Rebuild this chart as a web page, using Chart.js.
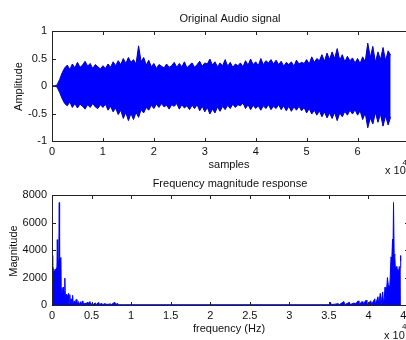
<!DOCTYPE html>
<html>
<head>
<meta charset="utf-8">
<script src="https://cdn.jsdelivr.net/npm/chart.js@4.4.1/dist/chart.umd.min.js"></script>
<style>
html, body { margin: 0; padding: 0; background: #fff; overflow: hidden; width: 406px; height: 340px; }
canvas { position: absolute; left: 0; top: 0; }
</style>
</head>
<body>
<canvas id="sig" width="420" height="340"></canvas>
<canvas id="fft" width="420" height="340"></canvas>
<script>
// envelope of the audio signal, one value every 500 samples
var SAMPLE_STEP = 500;
var sigUpper = [
    0, 0, 0.02, 0.12, 0.24, 0.33, 0.38, 0.3, 0.4, 0.33,
    0.43, 0.34, 0.38, 0.45, 0.36, 0.41, 0.32, 0.39, 0.35, 0.31,
    0.37, 0.32, 0.4, 0.34, 0.44, 0.37, 0.46, 0.39, 0.5, 0.41,
    0.52, 0.43, 0.48, 0.4, 0.73, 0.44, 0.52, 0.38, 0.47, 0.35,
    0.41, 0.32, 0.39, 0.36, 0.33, 0.4, 0.34, 0.37, 0.43, 0.34,
    0.41, 0.35, 0.44, 0.33, 0.38, 0.42, 0.34, 0.39, 0.45, 0.36,
    0.42, 0.4, 0.49, 0.38, 0.44, 0.35, 0.42, 0.37, 0.48, 0.36,
    0.43, 0.34, 0.4, 0.37, 0.42, 0.35, 0.46, 0.38, 0.49, 0.39,
    0.44, 0.37, 0.5, 0.39, 0.46, 0.42, 0.48, 0.4, 0.47, 0.39,
    0.45, 0.36, 0.43, 0.39, 0.44, 0.36, 0.47, 0.4, 0.43, 0.41,
    0.48, 0.4, 0.53, 0.43, 0.5, 0.46, 0.57, 0.45, 0.6, 0.48,
    0.62, 0.5, 0.68, 0.47, 0.57, 0.44, 0.54, 0.46, 0.51, 0.42,
    0.5, 0.41, 0.53, 0.44, 0.78, 0.52, 0.72, 0.43, 0.62, 0.48,
    0.7, 0.46, 0.64, 0.56
];
var sigLower = [
    0, 0, -0.02, -0.12, -0.23, -0.32, -0.36, -0.29, -0.39, -0.32,
    -0.4, -0.33, -0.37, -0.42, -0.34, -0.39, -0.32, -0.38, -0.41, -0.34,
    -0.39, -0.33, -0.44, -0.37, -0.47, -0.4, -0.52, -0.44, -0.59, -0.48,
    -0.63, -0.5, -0.61, -0.48, -0.57, -0.43, -0.49, -0.39, -0.44, -0.35,
    -0.41, -0.33, -0.39, -0.32, -0.38, -0.35, -0.42, -0.34, -0.37, -0.32,
    -0.42, -0.34, -0.4, -0.36, -0.43, -0.35, -0.41, -0.34, -0.45, -0.37,
    -0.47, -0.39, -0.51, -0.42, -0.49, -0.38, -0.46, -0.37, -0.43, -0.35,
    -0.41, -0.33, -0.39, -0.34, -0.36, -0.31, -0.41, -0.34, -0.43, -0.35,
    -0.41, -0.36, -0.44, -0.36, -0.41, -0.34, -0.43, -0.37, -0.41, -0.34,
    -0.43, -0.36, -0.45, -0.37, -0.46, -0.38, -0.44, -0.37, -0.45, -0.39,
    -0.49, -0.41, -0.51, -0.44, -0.53, -0.45, -0.56, -0.47, -0.58, -0.49,
    -0.59, -0.48, -0.63, -0.49, -0.56, -0.46, -0.53, -0.44, -0.51, -0.43,
    -0.53, -0.45, -0.61, -0.49, -0.76, -0.58, -0.69, -0.48, -0.66, -0.51,
    -0.73, -0.54, -0.71, -0.56
];

// magnitude spectrum peaks
var freqHz = [
    0, 60, 120, 200, 300, 400, 500, 560, 620, 670,
    720, 800, 860, 920, 960, 1050, 1130, 1170, 1250, 1330,
    1400, 1460, 1520, 1600, 1640, 1700, 1800, 1870, 1950, 2030,
    2100, 2170, 2250, 2350, 2450, 2530, 2600, 2700, 2850, 2950,
    3050, 3150, 3350, 3450, 3650, 3750, 3900, 4000, 4200, 4300,
    4450, 4550, 4800, 4900, 5050, 5150, 5500, 5600, 5900, 6000,
    6300, 6400, 6700, 6800, 7400, 7500, 7950, 8050, 8300, 8400,
    9000, 35000, 35200, 35300, 36200, 36300, 36900, 37000, 37600, 37700,
    38200, 38300, 38700, 38800, 39200, 39300, 39700, 39800, 40300, 40400,
    40800, 40900, 41200, 41300, 41500, 41600, 41800, 41900, 42000, 42100,
    42200, 42400, 42500, 42700, 42850, 42950, 43050, 43100, 43170, 43250,
    43330, 43400, 43500, 43600, 43700, 43800, 43900, 44000, 44050, 44100
];
var magnitude = [
    3600, 3300, 2900, 2500, 2400, 2600, 2450, 2700, 2500, 4750,
    3000, 3300, 3500, 7450, 3500, 3400, 3450, 900, 1200, 700,
    1300, 500, 1000, 300, 1950, 200, 800, 150, 700, 100,
    850, 120, 750, 100, 450, 80, 700, 60, 300, 50,
    400, 40, 250, 40, 250, 30, 300, 30, 150, 30,
    200, 30, 250, 30, 100, 30, 150, 30, 200, 30,
    120, 30, 100, 30, 80, 30, 200, 30, 120, 20,
    20, 20, 200, 20, 100, 20, 250, 20, 200, 30,
    150, 30, 300, 30, 250, 30, 350, 30, 300, 40,
    450, 50, 600, 80, 850, 100, 950, 120, 500, 1300,
    300, 2000, 1500, 1300, 3500, 3300, 4800, 3500, 7450, 3700,
    3600, 2700, 2800, 2500, 2600, 2400, 2800, 2700, 3600, 3200
];

var FONT = '"Liberation Sans", Arial, sans-serif';
var TEXT = "#111";
var BLUE = "#0000ff";
var EDGE = "#0000c0";
var TICK_LEN = 3.5;

// matlab style box, inward ticks on all sides, plus titles and labels
var matlabBox = {
    id: "matlabBox",
    afterDatasetsDraw: function (chart) {
        var ctx = chart.ctx, a = chart.chartArea;
        var sx = chart.scales.x, sy = chart.scales.y;
        ctx.save();
        ctx.strokeStyle = "#222";
        ctx.lineWidth = 1;
        var l = Math.round(a.left) + 0.5, r = Math.round(a.right) + 0.5;
        var t = Math.round(a.top) + 0.5, b = Math.round(a.bottom) + 0.5;
        ctx.strokeRect(l, t, r - l, b - t);
        ctx.beginPath();
        sx.ticks.forEach(function (tk) {
            var x = Math.round(sx.getPixelForValue(tk.value)) + 0.5;
            ctx.moveTo(x, b); ctx.lineTo(x, b - TICK_LEN);
            ctx.moveTo(x, t); ctx.lineTo(x, t + TICK_LEN);
        });
        sy.ticks.forEach(function (tk) {
            var y = Math.round(sy.getPixelForValue(tk.value)) + 0.5;
            ctx.moveTo(l, y); ctx.lineTo(l + TICK_LEN, y);
            ctx.moveTo(r, y); ctx.lineTo(r - TICK_LEN, y);
        });
        ctx.stroke();
        ctx.restore();
    },
    afterDraw: function (chart, args, opts) {
        var ctx = chart.ctx;
        ctx.save();
        ctx.fillStyle = TEXT;
        ctx.textBaseline = "middle";
        (opts.texts || []).forEach(function (s) {
            ctx.font = (s.size || 11) + "px " + FONT;
            ctx.textAlign = s.align || "center";
            ctx.save();
            ctx.translate(s.x, s.y);
            if (s.rot) ctx.rotate(s.rot * Math.PI / 180);
            ctx.fillText(s.text, 0, 0);
            ctx.restore();
        });
        ctx.restore();
    }
};

function axisOpts(min, max, step, size, pad, cb) {
    return {
        type: "linear",
        min: min,
        max: max,
        afterFit: size,
        grid: { display: false, drawTicks: false },
        border: { display: false },
        ticks: {
            stepSize: step,
            padding: pad,
            autoSkip: false,
            maxRotation: 0,
            color: TEXT,
            font: { family: FONT, size: 11 },
            callback: cb
        }
    };
}

new Chart(document.getElementById("sig"), {
    type: "line",
    data: {
        datasets: [
            {
                data: sigUpper.map(function (v, i) { return { x: i * SAMPLE_STEP, y: v }; }),
                borderColor: EDGE, borderWidth: 1, pointRadius: 0, fill: false
            },
            {
                data: sigLower.map(function (v, i) { return { x: i * SAMPLE_STEP, y: v }; }),
                borderColor: EDGE, borderWidth: 1, pointRadius: 0,
                backgroundColor: BLUE, fill: "-1"
            }
        ]
    },
    options: {
        responsive: false,
        animation: false,
        devicePixelRatio: 1,
        layout: { padding: { top: 31, right: 11.5, left: 0, bottom: 0 } },
        plugins: {
            legend: { display: false },
            tooltip: { enabled: false },
            matlabBox: {
                texts: [
                    { text: "Original Audio signal", x: 230, y: 18.5 },
                    { text: "samples", x: 229, y: 164.5 },
                    { text: "Amplitude", x: 19, y: 86.5, rot: -90 },
                    { text: "x 10", x: 385, y: 171, align: "left" },
                    { text: "4", x: 402.5, y: 162.5, size: 8, align: "left" }
                ]
            }
        },
        scales: {
            x: axisOpts(0, 70000, 10000, function (s) { s.height = 199; }, 4,
                function (v) { return v === 70000 ? "" : String(v / 10000); }),
            y: axisOpts(-1, 1, 0.5, function (s) { s.width = 52; }, 5,
                function (v) { return String(v); })
        }
    },
    plugins: [matlabBox]
});

new Chart(document.getElementById("fft"), {
    type: "line",
    data: {
        datasets: [
            {
                data: freqHz.map(function (f, i) { return { x: f, y: magnitude[i] }; }),
                borderColor: BLUE, borderWidth: 1, pointRadius: 0,
                backgroundColor: BLUE, fill: "origin"
            }
        ]
    },
    options: {
        responsive: false,
        animation: false,
        devicePixelRatio: 1,
        layout: { padding: { top: 195, right: 12, left: 0, bottom: 0 } },
        plugins: {
            legend: { display: false },
            tooltip: { enabled: false },
            matlabBox: {
                texts: [
                    { text: "Frequency magnitude response", x: 230, y: 183.5 },
                    { text: "frequency (Hz)", x: 229, y: 328.5 },
                    { text: "Magnitude", x: 14, y: 251, rot: -90 },
                    { text: "x 10", x: 384, y: 335.5, align: "left" },
                    { text: "4", x: 402, y: 327, size: 8, align: "left" }
                ]
            }
        },
        scales: {
            x: axisOpts(0, 45000, 5000, function (s) { s.height = 35; }, 4,
                function (v) { return String(v / 10000); }),
            y: axisOpts(0, 8000, 2000, function (s) { s.width = 52; }, 5,
                function (v) { return String(v); })
        }
    },
    plugins: [matlabBox]
});
</script>
</body>
</html>
